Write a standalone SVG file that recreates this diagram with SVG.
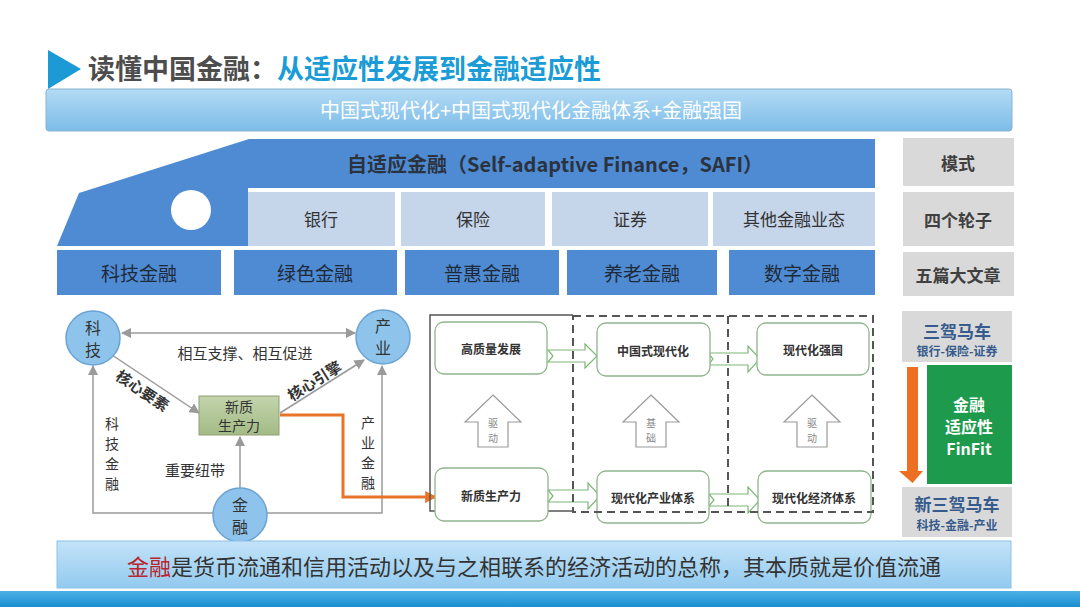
<svg xmlns="http://www.w3.org/2000/svg" width="1080" height="607" viewBox="0 0 1080 607">
<defs>
<style>
text{font-family:"Noto Sans CJK SC","Noto Sans",sans-serif;}
.cell{fill:#c5d5ea;}
.blue{fill:#4f8bd3;}
.gray{fill:#d9d9d9;}
.t17{font-size:17px;fill:#333;text-anchor:middle;dominant-baseline:central;}
.t19{font-size:19px;fill:#1e2a3a;text-anchor:middle;dominant-baseline:central;}
.tg{font-size:17px;font-weight:bold;fill:#404040;text-anchor:middle;dominant-baseline:central;}
.circ{fill:#8ec4ec;stroke:#6aa3d4;stroke-width:1.5;}
.ct{font-size:16px;fill:#333;text-anchor:middle;dominant-baseline:central;}
.ln{stroke:#9a9a9a;stroke-width:1.5;fill:none;}
.lt{font-size:15px;fill:#333;text-anchor:middle;dominant-baseline:central;}
.lv{font-size:14px;fill:#333;text-anchor:middle;dominant-baseline:central;}
.lb{font-size:15px;font-weight:bold;fill:#333;text-anchor:middle;dominant-baseline:central;}
.rb{fill:#fff;stroke:#90b48c;stroke-width:1.3;}
.rt{font-size:12px;font-weight:bold;fill:#333;text-anchor:middle;dominant-baseline:central;}
.ga{fill:#fff;stroke:#7cb878;stroke-width:1.2;}
.ua{fill:#fff;stroke:#9a9a9a;stroke-width:1.2;}
.ut{font-size:10px;fill:#888;text-anchor:middle;dominant-baseline:central;}
.dash{stroke:#555;stroke-width:2;fill:none;stroke-dasharray:8 5;}
.sb{font-weight:bold;fill:#365b8c;text-anchor:middle;dominant-baseline:central;}
.wt{font-size:16px;font-weight:bold;fill:#fff;text-anchor:middle;dominant-baseline:central;}
</style>
<linearGradient id="band" x1="0" y1="0" x2="0" y2="1">
<stop offset="0" stop-color="#b3dbf5"/><stop offset="1" stop-color="#7dbce8"/>
</linearGradient>
<linearGradient id="band2" x1="0" y1="0" x2="0" y2="1">
<stop offset="0" stop-color="#c3e3f8"/><stop offset="1" stop-color="#92caef"/>
</linearGradient>
<linearGradient id="foot" x1="0" y1="0" x2="0" y2="1">
<stop offset="0" stop-color="#4db0e6"/><stop offset="1" stop-color="#1a8fd0"/>
</linearGradient>
<linearGradient id="nq" x1="0" y1="0" x2="0" y2="1">
<stop offset="0" stop-color="#c3d4ab"/><stop offset="1" stop-color="#a3bb86"/>
</linearGradient>
<marker id="ah" viewBox="0 0 10 10" refX="9" refY="5" markerWidth="7" markerHeight="7" orient="auto-start-reverse">
<path d="M0,0 L10,5 L0,10 z" fill="#9a9a9a"/>
</marker>
<marker id="oh" viewBox="0 0 10 10" refX="9" refY="5" markerWidth="4" markerHeight="4" orient="auto">
<path d="M0,0 L10,5 L0,10 z" fill="#e8742a"/>
</marker>
</defs>
<rect width="1080" height="607" fill="#fff"/>

<g id="title">
<polygon points="48,50 81,69 48,89" fill="#1b9ad6"/>
<text x="88" y="79" font-size="27" font-weight="bold"><tspan fill="#4d4d4d">读懂中国金融：</tspan><tspan fill="#1b9cd7">从适应性发展到金融适应性</tspan></text>
</g>

<g id="header-band">
<rect x="46" y="89" width="966" height="42" rx="3" fill="url(#band)" stroke="#8ab4d2" stroke-width="1"/>
<text x="531" y="109" font-size="20" fill="#fff" text-anchor="middle" dominant-baseline="central">中国式现代化+中国式现代化金融体系+金融强国</text>
</g>

<g id="safi">
<polygon class="blue" points="249,139 875,139 875,188 248,188 248,246 57,246 79,193"/>
<circle cx="191" cy="210" r="20" fill="#fff"/>
<text x="555" y="163" font-size="20" font-weight="bold" fill="#2b3340" text-anchor="middle" dominant-baseline="central">自适应金融（Self-adaptive Finance，SAFI）</text>
</g>

<g id="wheels">
<rect class="cell" x="248" y="192" width="147" height="54"/>
<text class="t17" x="321" y="218">银行</text>
<rect class="cell" x="401" y="192" width="144" height="54"/>
<text class="t17" x="473" y="218">保险</text>
<rect class="cell" x="552" y="192" width="156" height="54"/>
<text class="t17" x="630" y="218">证券</text>
<rect class="cell" x="713" y="192" width="162" height="54"/>
<text class="t17" x="794" y="218">其他金融业态</text>
</g>

<g id="articles">
<rect class="blue" x="57" y="250" width="164" height="45"/>
<text class="t19" x="139" y="272">科技金融</text>
<rect class="blue" x="234" y="250" width="163" height="45"/>
<text class="t19" x="315" y="272">绿色金融</text>
<rect class="blue" x="405" y="250" width="154" height="45"/>
<text class="t19" x="482" y="272">普惠金融</text>
<rect class="blue" x="567" y="250" width="150" height="45"/>
<text class="t19" x="642" y="272">养老金融</text>
<rect class="blue" x="729" y="250" width="146" height="45"/>
<text class="t19" x="802" y="272">数字金融</text>
</g>

<g id="side-labels">
<rect class="gray" x="903" y="138" width="111" height="48"/>
<text class="tg" x="958" y="162">模式</text>
<rect class="gray" x="903" y="192" width="111" height="54"/>
<text class="tg" x="958" y="219">四个轮子</text>
<rect class="gray" x="903" y="252" width="111" height="44"/>
<text class="tg" x="958" y="274">五篇大文章</text>
</g>

<g id="connectors">
<line class="ln" x1="122" y1="333" x2="355" y2="333" marker-start="url(#ah)" marker-end="url(#ah)"/>
<line class="ln" x1="112" y1="355" x2="199" y2="413" marker-end="url(#ah)"/>
<line class="ln" x1="280" y1="413" x2="364" y2="360" marker-end="url(#ah)"/>
<line class="ln" x1="240" y1="488" x2="240" y2="437" marker-end="url(#ah)"/>
<polyline class="ln" points="214,513 93,513 93,366" marker-end="url(#ah)"/>
<polyline class="ln" points="266,513 382,513 382,366" marker-end="url(#ah)"/>
<polyline points="280,415 343,415 343,497 436,497" fill="none" stroke="#e8742a" stroke-width="3" marker-end="url(#oh)"/>
</g>

<g id="node-keji">
<circle class="circ" cx="93" cy="338" r="27"/>
<text class="ct" x="93" y="327">科</text>
<text class="ct" x="93" y="349">技</text>
</g>
<g id="node-chanye">
<circle class="circ" cx="383" cy="337" r="27"/>
<text class="ct" x="383" y="325">产</text>
<text class="ct" x="383" y="347">业</text>
</g>
<g id="node-jinrong">
<circle class="circ" cx="240" cy="515" r="27"/>
<text class="ct" x="240" y="504">金</text>
<text class="ct" x="240" y="526">融</text>
</g>
<g id="node-xinzhi">
<rect x="199" y="396" width="80" height="39" fill="url(#nq)" stroke="#8f9f78" stroke-width="1"/>
<text class="lv" x="239" y="406">新质</text>
<text class="lv" x="239" y="425">生产力</text>
</g>

<g id="left-labels">
<text class="lt" x="245" y="352">相互支撑、相互促进</text>
<text class="lb" transform="rotate(34 143 390)" x="143" y="390">核心要素</text>
<text class="lb" transform="rotate(-32 314 380)" x="314" y="380">核心引擎</text>
<text class="lt" x="195" y="469">重要纽带</text>
<text class="lv" x="112" y="423">科</text>
<text class="lv" x="112" y="443">技</text>
<text class="lv" x="112" y="463">金</text>
<text class="lv" x="112" y="483">融</text>
<text class="lv" x="368" y="422">产</text>
<text class="lv" x="368" y="442">业</text>
<text class="lv" x="368" y="462">金</text>
<text class="lv" x="368" y="482">融</text>
</g>

<g id="right-diagram">
<path d="M573,315 H430 V511 H573" fill="none" stroke="#555" stroke-width="1.5"/>
<path class="ga" d="M548,350 H585 V344 L597,356 L585,368 V362 H548 L553,356 Z"/>
<path class="ga" d="M708,353 H748 V346 L760,359 L748,372 V365 H708 L713,359 Z"/>
<path class="ga" d="M548,490 H588 V483 L600,496 L588,509 V502 H548 L553,496 Z"/>
<path class="ga" d="M709,494 H748 V487 L760,500 L748,513 V506 H709 L714,500 Z"/>
<path class="ua" d="M493,395 L521,422 L508,422 L508,447 L478,447 L478,422 L465,422 Z"/>
<text class="ut" x="493" y="422">驱</text>
<text class="ut" x="493" y="437">动</text>
<path class="ua" d="M651,395 L679,422 L666,422 L666,447 L636,447 L636,422 L623,422 Z"/>
<text class="ut" x="651" y="422">基</text>
<text class="ut" x="651" y="437">础</text>
<path class="ua" d="M812,395 L840,422 L827,422 L827,447 L797,447 L797,422 L784,422 Z"/>
<text class="ut" x="812" y="422">驱</text>
<text class="ut" x="812" y="437">动</text>
</g>
<g id="box-gaozhiliang"><rect class="rb" x="435" y="322" width="112" height="52" rx="9"/><text class="rt" x="491" y="348">高质量发展</text></g>
<g id="box-zhongguoshi"><rect class="rb" x="597" y="323" width="113" height="53" rx="9"/><text class="rt" x="653" y="350">中国式现代化</text></g>
<g id="box-qiangguo"><rect class="rb" x="757" y="323" width="112" height="52" rx="9"/><text class="rt" x="813" y="349">现代化强国</text></g>
<g id="box-xinzhi2"><rect class="rb" x="435" y="468" width="113" height="53" rx="9"/><text class="rt" x="491" y="495">新质生产力</text></g>
<g id="box-chanye"><rect class="rb" x="597" y="471" width="112" height="52" rx="9"/><text class="rt" x="653" y="497">现代化产业体系</text></g>
<g id="box-jingji"><rect class="rb" x="758" y="471" width="113" height="52" rx="9"/><text class="rt" x="814" y="497">现代化经济体系</text></g>
<g id="dashed-frame">
<rect class="dash" x="573" y="316" width="300" height="196"/>
<line class="dash" x1="728" y1="316" x2="728" y2="512"/>
</g>

<g id="right-column">
<rect class="gray" x="902" y="311" width="110" height="51"/>
<text class="sb" x="957" y="330" font-size="17">三驾马车</text>
<text class="sb" x="957" y="350" font-size="12">银行-保险-证券</text>
<path d="M907,367 H918 V471 H923 L912.5,483 L899,471 H907 Z" fill="#ec6f23"/>
<rect x="927" y="365" width="85" height="119" fill="#1d9a4b"/>
<text class="wt" x="969" y="404">金融</text>
<text class="wt" x="969" y="426">适应性</text>
<text class="wt" x="969" y="448">FinFit</text>
<rect class="gray" x="902" y="487" width="110" height="50"/>
<text class="sb" x="957" y="503" font-size="17">新三驾马车</text>
<text class="sb" x="957" y="524" font-size="12">科技-金融-产业</text>
</g>

<g id="footer">
<rect x="57" y="541" width="954" height="47" fill="url(#band2)" stroke="#8cc2e6" stroke-width="1"/>
<text x="534" y="565" font-size="22" text-anchor="middle" dominant-baseline="central" fill="#333"><tspan fill="#b8252f">金融</tspan>是货币流通和信用活动以及与之相联系的经济活动的总称，其本质就是价值流通</text>
<rect x="0" y="591" width="1080" height="16" fill="url(#foot)"/>
</g>
</svg>
